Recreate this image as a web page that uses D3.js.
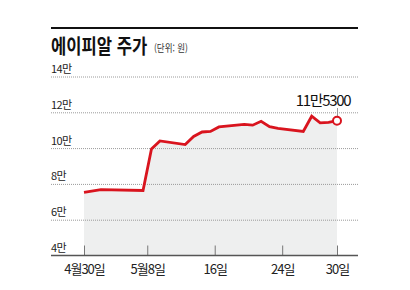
<!DOCTYPE html>
<html lang="ko">
<head>
<meta charset="UTF-8">
<title>에이피알 주가</title>
<style>
  body { margin: 0; background: #fff; font-family: "Noto Sans CJK KR", "Noto Sans", sans-serif; }
  svg { display: block; }
  .ylab { font-size: 11px; fill: #222; letter-spacing: -0.6px; }
  .xlab { font-size: 13px; fill: #222; letter-spacing: -1px; text-anchor: middle; }
</style>
</head>
<body>
<svg width="410" height="290"></svg>
<script src="https://cdnjs.cloudflare.com/ajax/libs/d3/7.8.5/d3.min.js"></script>
<script>
// trading days and closing prices (won)
var dates = ["2025-04-30","2025-05-02","2025-05-07","2025-05-08","2025-05-09",
             "2025-05-12","2025-05-13","2025-05-14","2025-05-15","2025-05-16",
             "2025-05-19","2025-05-20","2025-05-21","2025-05-22","2025-05-23",
             "2025-05-26","2025-05-27","2025-05-28","2025-05-29","2025-05-30"];
var prices = [75300, 76800, 76300, 99500, 104000,
              102000, 106500, 109000, 109300, 111800,
              113200, 112800, 115000, 112000, 111000,
              109300, 117800, 114100, 114400, 115300];
var yTicks = [40000, 60000, 80000, 100000, 120000, 140000];
var yTickLabels = ["4만", "6만", "8만", "10만", "12만", "14만"];
var xTicks = ["2025-04-30", "2025-05-07T12:00", "2025-05-15T12:00", "2025-05-23T12:00", "2025-05-30"];
var xTickLabels = ["4월30일", "5월8일", "16일", "24일", "30일"];
var lastLabel = "11만5300";

var parse = d3.isoParse;
var data = dates.map(function(d, i) { return { date: parse(d), value: prices[i] }; });

var svg = d3.select("svg");
var left = 51, right = 358;

var x = d3.scaleTime()
    .domain([parse(dates[0]), parse(dates[dates.length - 1])])
    .range([84, 337]);
var y = d3.scaleLinear()
    .domain([40000, 140000])
    .range([255.5, 76.5]);

// top rule
svg.append("line")
    .attr("x1", left).attr("x2", right)
    .attr("y1", 28).attr("y2", 28)
    .attr("stroke", "#111").attr("stroke-width", 2);

// title, squeezed horizontally like the original
svg.append("text")
    .attr("transform", "translate(" + left + ",54) scale(0.83,1)")
    .style("font-size", "20px").style("font-weight", "bold")
    .attr("fill", "#111")
    .text("에이피알 주가");
svg.append("text")
    .attr("transform", "translate(154,52) scale(0.85,1)")
    .style("font-size", "10px").attr("fill", "#333")
    .text("(단위: 원)");

// area
var area = d3.area()
    .x(function(d) { return x(d.date); })
    .y0(y(40000))
    .y1(function(d) { return y(d.value); });
svg.append("path")
    .datum(data)
    .attr("d", area)
    .attr("fill", "#eeefef");

// gridlines + y labels
var grid = svg.append("g");
grid.selectAll("line")
    .data(yTicks.slice(1))
    .enter().append("line")
    .attr("x1", left).attr("x2", right)
    .attr("y1", function(d) { return y(d) + 0.5; })
    .attr("y2", function(d) { return y(d) + 0.5; })
    .attr("stroke", "#9a9a9a")
    .attr("stroke-width", 1)
    .attr("stroke-dasharray", "1,1");
grid.selectAll("text")
    .data(yTicks)
    .enter().append("text")
    .attr("class", "ylab")
    .attr("x", left)
    .attr("y", function(d) { return y(d) - 3.5; })
    .text(function(d, i) { return yTickLabels[i]; });

// x axis
var xAxis = d3.axisBottom(x)
    .tickValues(xTicks.map(parse))
    .tickSize(-10)
    .tickFormat(function(d, i) { return xTickLabels[i]; });
var gx = svg.append("g")
    .attr("transform", "translate(0," + y(40000) + ")")
    .call(xAxis);
gx.attr("font-family", null).attr("font-size", null);
gx.select(".domain").remove();
gx.selectAll(".tick line").attr("stroke", "#777").attr("stroke-width", 1);
gx.selectAll(".tick text")
    .attr("class", "xlab")
    .attr("y", 18)
    .attr("dy", 0);
svg.append("line")
    .attr("x1", left).attr("x2", right)
    .attr("y1", y(40000)).attr("y2", y(40000))
    .attr("stroke", "#555").attr("stroke-width", 1.5);

// price line
var line = d3.line()
    .x(function(d) { return x(d.date); })
    .y(function(d) { return y(d.value); });
svg.append("path")
    .datum(data)
    .attr("d", line)
    .attr("fill", "none")
    .attr("stroke", "#d9141e")
    .attr("stroke-width", 2.8)
    .attr("stroke-linejoin", "miter");

// last point marker
var last = data[data.length - 1];
svg.append("line")
    .attr("x1", x(last.date) + 0.5).attr("x2", x(last.date) + 0.5)
    .attr("y1", 108).attr("y2", y(last.value))
    .attr("stroke", "#999").attr("stroke-width", 1);
svg.append("circle")
    .attr("cx", x(last.date)).attr("cy", y(last.value))
    .attr("r", 4)
    .attr("fill", "#fff")
    .attr("stroke", "#d9141e")
    .attr("stroke-width", 2);
svg.append("text")
    .attr("x", 323).attr("y", 106)
    .attr("text-anchor", "middle")
    .style("font-size", "15px").style("letter-spacing", "-1.3px")
    .attr("fill", "#111")
    .text(lastLabel);
</script>
</body>
</html>
